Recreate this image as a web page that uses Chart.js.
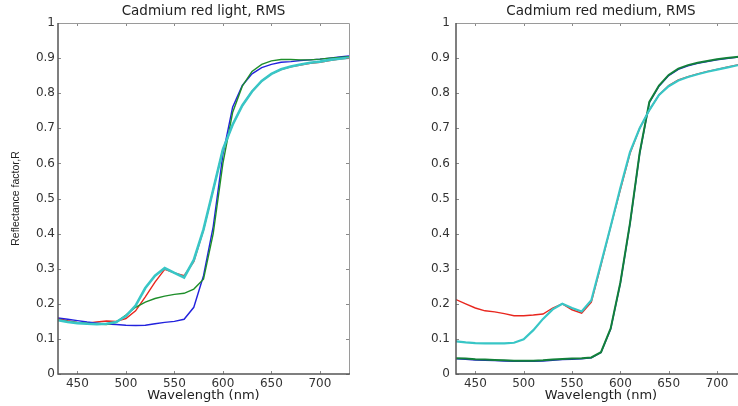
<!DOCTYPE html>
<html>
<head>
<meta charset="utf-8">
<script src="https://cdn.jsdelivr.net/npm/chart.js@4.4.0/dist/chart.umd.min.js"></script>
<style>
  html, body { margin: 0; padding: 0; background: #fff; overflow: hidden; }
  body { width: 738px; height: 406px; position: relative; }
  canvas { position: absolute; top: 0; }
  #light { left: 0; }
  #medium { left: 370px; }
</style>
</head>
<body>
<canvas id="light" width="370" height="406"></canvas>
<canvas id="medium" width="400" height="406"></canvas>
<script>
// Wavelength samples (nm)
const wavelengths = [430, 440, 450, 460, 470, 480, 490, 500, 510, 520, 530, 540, 550, 560, 570,
                     580, 590, 600, 610, 620, 630, 640, 650, 660, 670, 680, 690, 700, 710, 720, 730];
const xTicks = [450, 500, 550, 600, 650, 700];
const yTicks = [0, 0.1, 0.2, 0.3, 0.4, 0.5, 0.6, 0.7, 0.8, 0.9, 1];

// Cadmium red light
const lightRed = [0.158, 0.152, 0.147, 0.145, 0.148, 0.151, 0.150, 0.158, 0.180, 0.220, 0.262, 0.298, 0.288, 0.280, 0.320,
                  0.410, 0.525, 0.640, 0.710, 0.765, 0.805, 0.835, 0.855, 0.867, 0.875, 0.880, 0.885, 0.888, 0.893, 0.897, 0.900];
const lightBlue = [0.160, 0.156, 0.152, 0.148, 0.145, 0.142, 0.141, 0.139, 0.138, 0.139, 0.143, 0.147, 0.150, 0.156, 0.190,
                   0.280, 0.420, 0.625, 0.760, 0.822, 0.855, 0.873, 0.882, 0.888, 0.890, 0.893, 0.895, 0.897, 0.900, 0.903, 0.906];
const lightGreen = [0.155, 0.150, 0.146, 0.144, 0.142, 0.141, 0.147, 0.168, 0.190, 0.205, 0.215, 0.222, 0.227, 0.230, 0.242,
                    0.270, 0.400, 0.600, 0.745, 0.820, 0.862, 0.882, 0.892, 0.896, 0.896, 0.895, 0.895, 0.897, 0.900, 0.902, 0.904];
const lightCyan = [0.153, 0.148, 0.145, 0.143, 0.142, 0.143, 0.148, 0.165, 0.195, 0.245, 0.280, 0.302, 0.288, 0.275, 0.325,
                   0.412, 0.525, 0.640, 0.710, 0.765, 0.805, 0.835, 0.855, 0.868, 0.876, 0.882, 0.887, 0.890, 0.895, 0.898, 0.901];

// Cadmium red medium
const mediumRed = [0.212, 0.200, 0.188, 0.180, 0.177, 0.172, 0.166, 0.166, 0.168, 0.171, 0.188, 0.200, 0.183, 0.173, 0.205,
                   0.310, 0.420, 0.525, 0.628, 0.700, 0.752, 0.795, 0.822, 0.838, 0.847, 0.855, 0.862, 0.868, 0.874, 0.880, 0.885];
const mediumBlue = [0.043, 0.042, 0.040, 0.039, 0.038, 0.037, 0.036, 0.036, 0.036, 0.037, 0.039, 0.041, 0.042, 0.043, 0.046,
                    0.061, 0.128, 0.258, 0.428, 0.628, 0.773, 0.820, 0.850, 0.868, 0.878, 0.885, 0.890, 0.895, 0.899, 0.902, 0.905];
const mediumGreen = [0.045, 0.044, 0.042, 0.041, 0.040, 0.039, 0.038, 0.038, 0.038, 0.039, 0.041, 0.043, 0.044, 0.045, 0.047,
                     0.062, 0.130, 0.260, 0.430, 0.630, 0.775, 0.822, 0.852, 0.870, 0.880, 0.887, 0.892, 0.897, 0.900, 0.903, 0.906];
const mediumCyan = [0.093, 0.090, 0.088, 0.087, 0.087, 0.087, 0.089, 0.099, 0.125, 0.157, 0.184, 0.200, 0.188, 0.178, 0.210,
                    0.315, 0.420, 0.530, 0.632, 0.700, 0.752, 0.795, 0.820, 0.836, 0.846, 0.854, 0.861, 0.867, 0.873, 0.879, 0.884];

const FONT = "'DejaVu Sans', sans-serif";

// inward ticks and box, matlab style
const frame = {
  id: 'frame',
  afterDatasetsDraw(chart) {
    const { ctx, chartArea: a, scales: { x, y } } = chart;
    ctx.save();
    ctx.lineWidth = 1;
    ctx.strokeStyle = '#8a8a8a';
    ctx.beginPath();
    x.ticks.forEach(t => {
      const px = Math.round(x.getPixelForValue(t.value)) + 0.5;
      ctx.moveTo(px, a.top); ctx.lineTo(px, a.top + 3);
      ctx.moveTo(px, a.bottom); ctx.lineTo(px, a.bottom - 3);
    });
    y.ticks.forEach(t => {
      const py = Math.round(y.getPixelForValue(t.value)) + 0.5;
      ctx.moveTo(a.left, py); ctx.lineTo(a.left + 3, py);
      ctx.moveTo(a.right, py); ctx.lineTo(a.right - 3, py);
    });
    ctx.stroke();
    ctx.strokeStyle = '#9a9a9a';
    ctx.beginPath();
    ctx.moveTo(a.left, a.top + 0.5); ctx.lineTo(a.right + 0.5, a.top + 0.5);
    ctx.lineTo(a.right + 0.5, a.bottom);
    ctx.stroke();
    ctx.strokeStyle = '#555';
    ctx.lineWidth = 1.5;
    ctx.beginPath();
    ctx.moveTo(a.left, a.top); ctx.lineTo(a.left, a.bottom);
    ctx.lineTo(a.right + 1, a.bottom);
    ctx.stroke();
    ctx.restore();
  }
};

function line(values, color, width) {
  return {
    data: wavelengths.map((w, i) => ({ x: w, y: values[i] })),
    borderColor: color,
    borderWidth: width,
    pointRadius: 0,
    tension: 0,
    fill: false
  };
}

function makeChart(id, title, datasets, opts) {
  return new Chart(document.getElementById(id), {
    type: 'line',
    data: { datasets },
    options: {
      responsive: false,
      devicePixelRatio: 1,
      animation: false,
      layout: { padding: { left: 0, right: opts.padRight, top: 0, bottom: 0 } },
      plugins: {
        legend: { display: false },
        tooltip: { enabled: false },
        title: {
          display: true,
          text: title,
          fullSize: false,
          color: '#222',
          font: { family: FONT, size: 13.5, weight: 'normal' },
          padding: { top: 3.6, bottom: 3.2 }
        }
      },
      scales: {
        x: {
          type: 'linear',
          min: 430,
          max: 730,
          grid: { display: false, drawTicks: false },
          border: { display: false },
          afterBuildTicks: s => { s.ticks = xTicks.map(v => ({ value: v })); },
          afterFit: s => { s.height = 32; },
          ticks: { color: '#333', padding: 3, font: { family: FONT, size: 12 } },
          title: {
            display: true,
            text: 'Wavelength (nm)',
            color: '#222',
            font: { family: FONT, size: 13 },
            padding: { top: 0, bottom: 3 }
          }
        },
        y: {
          min: 0,
          max: 1,
          grid: { display: false, drawTicks: false },
          border: { display: false },
          afterBuildTicks: s => { s.ticks = yTicks.map(v => ({ value: v })); },
          afterFit: s => { s.width = opts.yWidth; },
          ticks: {
            color: '#333',
            padding: opts.yPad,
            font: { family: FONT, size: 12 },
            callback: v => String(v)
          },
          title: {
            display: opts.yTitle,
            text: 'Reflectance factor,R',
            color: '#222',
            font: { family: "'Liberation Sans', Arial, sans-serif", size: 10.5 },
            padding: { top: 10, bottom: 0 }
          }
        }
      }
    },
    plugins: [frame]
  });
}

makeChart('light', 'Cadmium red light, RMS', [
  line(lightCyan, '#38c6c6', 2.6),
  line(lightGreen, '#1e8e2a', 1.4),
  line(lightBlue, '#2222dd', 1.4),
  line(lightRed, '#e8261e', 1.4)
], { padRight: 21, yWidth: 58, yPad: 3, yTitle: true });

makeChart('medium', 'Cadmium red medium, RMS', [
  line(mediumCyan, '#38c6c6', 2.2),
  line(mediumGreen, '#12803a', 2),
  line(mediumBlue, '#2222cc', 1.4),
  line(mediumRed, '#e8261e', 1.4)
], { padRight: 24, yWidth: 86, yPad: 6, yTitle: false });
</script>
</body>
</html>
